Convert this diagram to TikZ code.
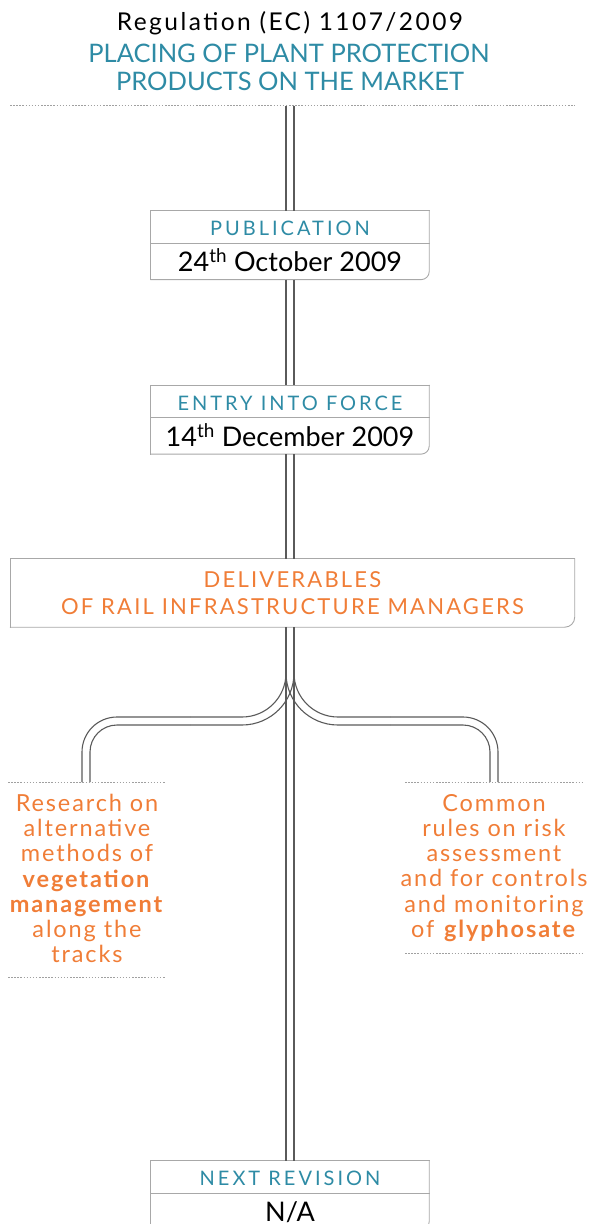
\documentclass[tikz,border=0pt]{standalone}
\usepackage{fontspec}
\setmainfont{Lato}
\newfontfamily\spacedfont[LetterSpace=15]{Lato}
\newfontfamily\widefont[LetterSpace=10]{Lato}
\newfontfamily\sidefont[LetterSpace=8]{Lato}
\usetikzlibrary{positioning}
\definecolor{regteal}{HTML}{2E8BA5}
\definecolor{regorange}{HTML}{F07D37}
\definecolor{railgray}{HTML}{5A5A5A}
\definecolor{boxgray}{HTML}{A8A8A8}
\definecolor{dotgray}{HTML}{A0A0A0}
\tikzset{
  rail/.style={draw=railgray, line width=1.1pt},
  boxline/.style={draw=boxgray, line width=0.9pt, line cap=rect},
  dotrule/.style={draw=dotgray, line width=1pt, dash pattern=on 1.5pt off 1.6pt},
  headbox/.style={minimum width=278pt, minimum height=32pt, inner sep=0pt,
    text height=17pt, text depth=0pt, text=regteal,
    font=\spacedfont\fontsize{20}{24}\selectfont},
  datebox/.style={minimum width=278pt, minimum height=36pt, inner sep=0pt,
    text height=21pt, text depth=0pt, font=\fontsize{27}{30}\selectfont},
  sidetext/.style={align=center, text=regorange, inner sep=0pt, anchor=north,
    font=\sidefont\fontsize{23.5}{25.2}\selectfont}
}
\begin{document}
\begin{tikzpicture}[x=1pt, y=-1pt]
    \useasboundingbox (0,0) rectangle (589,1224);
    % title
    \node[anchor=base, font=\widefont\fontsize{24.5}{26}\selectfont] (reg) at (290,30) {Regulation (EC) 1107/2009};
    \node[anchor=base, text=regteal, font=\fontsize{25.5}{28}\selectfont] (placing) at (289,62) {PLACING OF PLANT PROTECTION};
    \node[anchor=base, text=regteal, font=\fontsize{25.5}{28}\selectfont] (products) at (290,90) {PRODUCTS ON THE MARKET};
    \draw[dotrule] (10,105) -- (575,105);
    \node[inner sep=0pt] (top) at (290,105) {};

    % dated boxes
    \node[headbox] (pubhead) at (290,227) {PUBLICATION};
    \node[datebox, below=0pt of pubhead] (pubdate) {24\textsuperscript{th} October 2009};
    \node[headbox] (entryhead) at (290,401.5) {ENTRY INTO FORCE};
    \node[datebox, below=0pt of entryhead] (entrydate) {14\textsuperscript{th} December 2009};
    \node[headbox] (revhead) at (290,1177) {NEXT REVISION};
    \node[datebox, below=0pt of revhead] (revdate) {N/A};
    \foreach \x in {pub,entry,rev} {
        \draw[boxline] (\x date.south west) -- (\x head.north west) -- (\x head.north east);
        \draw[boxline, rounded corners=8pt] (\x head.north east) -- (\x date.south east) -- (\x date.south west);
        \draw[boxline] (\x head.south west) -- (\x head.south east);
    }

    % deliverables
    \node[minimum width=564pt, minimum height=68pt, inner sep=0pt, align=center, text=regorange,
        font=\widefont\fontsize{22}{27}\selectfont] (deliv) at (292.5,593) {DELIVERABLES\\OF RAIL INFRASTRUCTURE MANAGERS};
    \draw[boxline] (deliv.south west) -- (deliv.north west) -- (deliv.north east);
    \draw[boxline, rounded corners=10pt] (deliv.north east) -- (deliv.south east) -- (deliv.south west);

    % trunk
    \foreach \a/\b in {top/pubhead, pubdate/entryhead, entrydate/deliv, deliv/revhead}
        \foreach \s in {-4,4}
            \draw[rail] ([xshift=\s pt]top |- \a.south) -- ([xshift=\s pt]top |- \b.north);

    % branches
    \coordinate (lres) at (86,782);
    \coordinate (rres) at (494,782);
    \foreach \d/\e/\r/\q in {-4/4/44/35, 4/-4/52/27} {
        \draw[rail, rounded corners=\r pt] ([xshift=\d pt]top |- deliv.south) -- ({290+(\d)},{721+(\d)}) -- (190,{721+(\d)});
        \draw[rail, rounded corners=\q pt] (190,{721+(\d)}) -- ({86+(\d)},{721+(\d)}) -- ([xshift=\d pt]lres);
        \draw[rail, rounded corners=\r pt] ([xshift=\e pt]top |- deliv.south) -- ({290+(\e)},{721+(\d)}) -- (390,{721+(\d)});
        \draw[rail, rounded corners=\q pt] (390,{721+(\d)}) -- ({494+(\e)},{721+(\d)}) -- ([xshift=\e pt]rres);
    }

    % side texts
    \draw[dotrule] (8,782) -- (165,782);
    \draw[dotrule] (8,977) -- (165,977);
    \draw[dotrule] (405,782) -- (582,782);
    \draw[dotrule] (405,953) -- (582,953);
    \node[sidetext] (research) at (87,794) {Research on\\alternative\\methods of\\\textbf{vegetation}\\\textbf{management}\\along the\\tracks};
    \node[sidetext] (glyphosate) at (494,794) {Common\\rules on risk\\assessment\\and for controls\\and monitoring\\of \textbf{glyphosate}};
\end{tikzpicture}
\end{document}
